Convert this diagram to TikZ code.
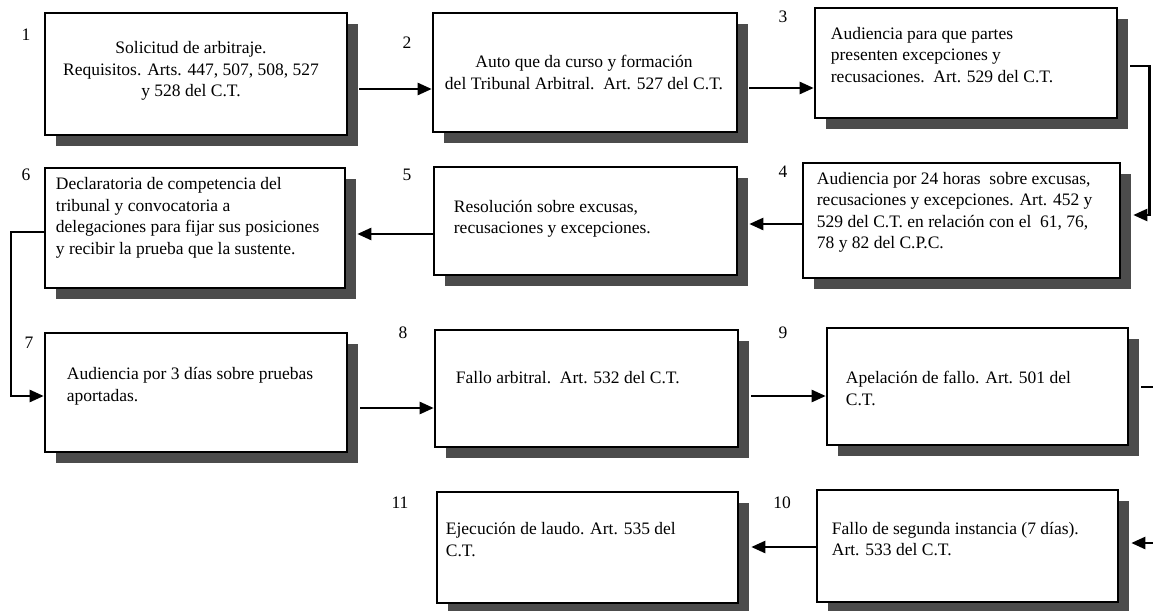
\documentclass[tikz,border=0pt]{standalone}
\usepackage{fontspec}
\setmainfont{Liberation Serif}
\usetikzlibrary{arrows.meta,shadows}

\begin{document}
\begin{tikzpicture}[x = 1pt, y = -1pt, > = {Triangle[length=14pt, width=12pt]},
	paso/.style = {draw, line width=2.6pt, fill=white,
		drop shadow={shadow xshift=11pt, shadow yshift=-11pt, fill=black!70, opacity=1}},
	texto/.style = {font=\fontsize{17.5}{21.5}\selectfont, inner sep=0pt},
	izq/.style = {texto, align=left, anchor=west},
	numero/.style = {font=\fontsize{17.5}{17.5}\selectfont, inner sep=0pt},
	flecha/.style = {->, line width=2.4pt}]

	\useasboundingbox (0, 0) rectangle (1153, 610);
	\fill [white] (0, 0) rectangle (1153, 610);

	% cajas
	\node [paso, minimum width=302, minimum height=122] (b1) at (196, 74) {};
	\node [paso, minimum width=304, minimum height=119] (b2) at (585, 72.5) {};
	\node [paso, minimum width=302, minimum height=110] (b3) at (966, 63) {};
	\node [paso, minimum width=317, minimum height=115] (b4) at (961.5, 220.5) {};
	\node [paso, minimum width=303, minimum height=108] (b5) at (585.5, 221) {};
	\node [paso, minimum width=300, minimum height=120] (b6) at (195, 228) {};
	\node [paso, minimum width=302, minimum height=119] (b7) at (196, 392.5) {};
	\node [paso, minimum width=303, minimum height=117] (b8) at (586.5, 388.5) {};
	\node [paso, minimum width=301, minimum height=117] (b9) at (977.5, 386.5) {};
	\node [paso, minimum width=301, minimum height=112] (b10) at (967.5, 546) {};
	\node [paso, minimum width=301, minimum height=111] (b11) at (587.5, 547.5) {};

	% textos
	\node [texto, align=center] (t1) at ([shift={(-5, -3)}]b1.center)
		{Solicitud de arbitraje.\\ Requisitos. Arts. 447, 507, 508, 527\\ y 528 del C.T.};
	\node [texto, align=center] (t2) at ([shift={(-1, 0)}]b2.center)
		{Auto que da curso y formación\\ del Tribunal Arbitral.\ \ Art. 527 del C.T.};
	\node [izq] (t3) at ([shift={(17, -8)}]b3.west)
		{Audiencia para que partes\\ presenten excepciones y\\ recusaciones.\ \ Art. 529 del C.T.};
	\node [izq] (t4) at ([shift={(15, -8)}]b4.west)
		{Audiencia por 24 horas\ \ sobre excusas,\\ recusaciones y excepciones. Art. 452 y\\ 529 del C.T. en relación con el\ \ 61, 76,\\ 78 y 82 del C.P.C.};
	\node [izq] (t5) at ([shift={(21, -2)}]b5.west)
		{Resolución sobre excusas,\\ recusaciones y excepciones.};
	\node [izq] (t6) at ([shift={(12, -10)}]b6.west)
		{Declaratoria de competencia del\\ tribunal y convocatoria a\\ delegaciones para fijar sus posiciones\\ y recibir la prueba que la sustente.};
	\node [izq] (t7) at ([shift={(23, -6)}]b7.west)
		{Audiencia por 3 días sobre pruebas\\ aportadas.};
	\node [izq] (t8) at ([shift={(22, -11)}]b8.west)
		{Fallo arbitral.\ \ Art. 532 del C.T.};
	\node [izq] (t9) at ([shift={(20, 2)}]b9.west)
		{Apelación de fallo. Art. 501 del\\ C.T.};
	\node [izq] (t10) at ([shift={(16, -7)}]b10.west)
		{Fallo de segunda instancia (7 días).\\ Art. 533 del C.T.};
	\node [izq] (t11) at ([shift={(10, -8)}]b11.west)
		{Ejecución de laudo. Art. 535 del\\ C.T.};

	% numeros
	\node [numero] (n1) at (26, 35) {1};
	\node [numero] (n2) at (407, 43) {2};
	\node [numero] (n3) at (783, 17) {3};
	\node [numero] (n4) at (783, 172) {4};
	\node [numero] (n5) at (407, 175) {5};
	\node [numero] (n6) at (26, 175) {6};
	\node [numero] (n7) at (29, 343) {7};
	\node [numero] (n8) at (403, 333) {8};
	\node [numero] (n9) at (783, 333) {9};
	\node [numero] (n10) at (782, 503) {10};
	\node [numero] (n11) at (400, 503) {11};

	% flechas
	\draw [flecha] ([xshift=11pt]b1.east |- 0, 89) -- (b2.west |- 0, 89);
	\draw [flecha] ([xshift=11pt]b2.east |- 0, 88) -- (b3.west |- 0, 88);
	\draw [flecha] ([xshift=12pt]b3.east |- 0, 66) -- ++(19, 0) |- ([xshift=12pt]b4.east |- 0, 215);
	\draw [flecha] (b4.west |- 0, 224) -- ([xshift=11pt]b5.east |- 0, 224);
	\draw [flecha] (b5.west |- 0, 234) -- ([xshift=11pt]b6.east |- 0, 234);
	\draw [flecha] (b6.west |- 0, 232) -- ++(-33, 0) |- (b7.west |- 0, 396);
	\draw [flecha] ([xshift=12pt]b7.east |- 0, 408) -- (b8.west |- 0, 408);
	\draw [flecha] ([xshift=12pt]b8.east |- 0, 396) -- (b9.west |- 0, 396);
	\draw [flecha] ([xshift=12pt]b9.east |- 0, 387) -- ++(25, 0) |- ([xshift=12pt]b10.east |- 0, 543);
	\draw [flecha] (b10.west |- 0, 547) -- ([xshift=12pt]b11.east |- 0, 547);

\end{tikzpicture}
\end{document}
